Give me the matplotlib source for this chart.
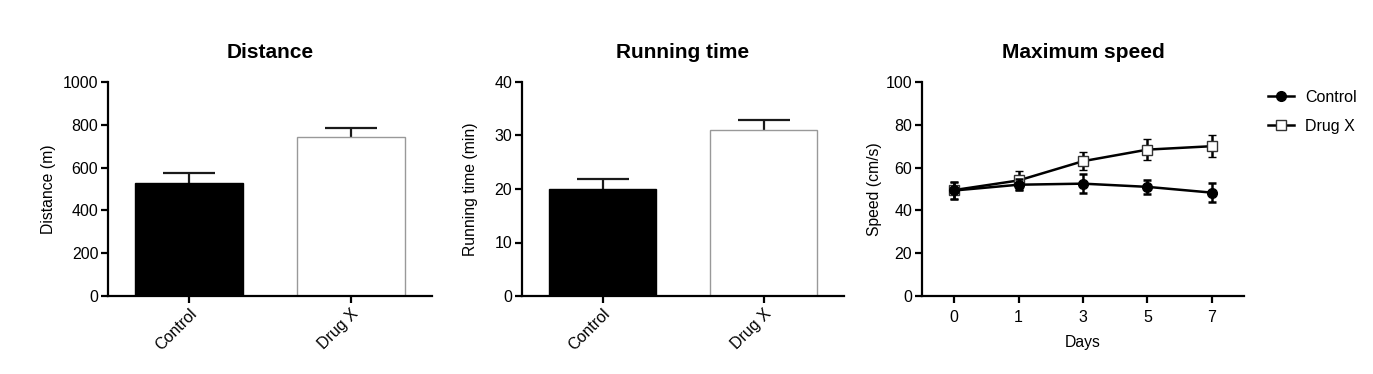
import matplotlib
matplotlib.use("Agg")
import matplotlib.pyplot as plt
from matplotlib.lines import Line2D
import numpy as np

plt.rcParams['font.family'] = ['Liberation Sans', 'DejaVu Sans']

groups = ["Control", "Drug X"]
distance_mean = [527, 741]
distance_err = [47, 43]
runtime_mean = [20.0, 31.0]
runtime_err = [1.9, 1.9]

days = ["0", "1", "3", "5", "7"]
speed_control = [49.3, 52.0, 52.5, 51.0, 48.3]
speed_control_err = [4.0, 2.6, 4.3, 3.3, 4.5]
speed_drug = [49.5, 54.0, 63.0, 68.4, 70.0]
speed_drug_err = [4.0, 4.5, 4.1, 4.8, 5.2]

fig = plt.figure(figsize=(13.73, 3.74), dpi=100)
W, H = 1373, 374
def axes_px(l, r, t, b):
    return fig.add_axes([l / W, (H - b) / H, (r - l) / W, (b - t) / H])

ax1 = axes_px(108, 432, 82, 296)
ax2 = axes_px(522, 844, 82, 296)
ax3 = axes_px(922, 1244, 82, 296)

TICK_FS = 11.5
LABEL_FS = 11.3
TITLE_FS = 15

def style(ax):
    for s in ['top', 'right']:
        ax.spines[s].set_visible(False)
    for s in ['left', 'bottom']:
        ax.spines[s].set_linewidth(1.6)
    ax.tick_params(axis='both', direction='out', length=5, width=1.6,
                   labelsize=TICK_FS, pad=2, colors='black')

def bar_panel(ax, means, errs, ymax, step, title, ylabel, ylab_x):
    x = np.arange(len(groups))
    ax.bar(x, means, width=0.67, color=['black', 'white'],
           edgecolor=['black', '#999999'], linewidth=1.0, zorder=2)
    _, caps, _ = ax.errorbar(x, means, yerr=[np.zeros(len(errs)), errs],
                             fmt='none', ecolor='#1a1a1a', elinewidth=1.6,
                             capsize=19, capthick=1.6, zorder=1)
    caps[0].set_visible(False)
    ax.set_xlim(-0.5, 1.5)
    ax.set_ylim(0, ymax)
    ax.set_yticks(np.arange(0, ymax + step / 2, step))
    ax.set_xticks(x)
    ax.set_xticklabels(groups, rotation=45, ha='right', rotation_mode='anchor')
    ax.set_title(title, fontsize=TITLE_FS, fontweight='bold', pad=17)
    ax.set_ylabel(ylabel, fontsize=LABEL_FS)
    ax.yaxis.set_label_coords(ylab_x, 0.5)
    style(ax)

bar_panel(ax1, distance_mean, distance_err, 1000, 200, "Distance",
          "Distance (m)", -0.160)
bar_panel(ax2, runtime_mean, runtime_err, 40, 10, "Running time",
          "Running time (min)", -0.137)

xd = np.arange(len(days))
ax3.errorbar(xd, speed_control, yerr=speed_control_err, color='black',
             marker='o', markersize=7, linewidth=1.8, elinewidth=1.8,
             capsize=3, capthick=1.8, zorder=3)
ax3.errorbar(xd, speed_drug, yerr=speed_drug_err, color='black',
             marker='s', markersize=7, markerfacecolor='white',
             markeredgecolor='#333333', markeredgewidth=1.0,
             linewidth=1.8, elinewidth=1.8, capsize=3, capthick=1.8,
             zorder=2)
ax3.set_xlim(-0.5, 4.5)
ax3.set_ylim(0, 100)
ax3.set_yticks(np.arange(0, 101, 20))
ax3.set_xticks(xd)
ax3.set_xticklabels(days)
ax3.set_xlabel("Days", fontsize=LABEL_FS, labelpad=7)
ax3.set_ylabel("Speed (cm/s)", fontsize=LABEL_FS)
ax3.yaxis.set_label_coords(-0.125, 0.5)
ax3.set_title("Maximum speed", fontsize=TITLE_FS, fontweight='bold', pad=17)
style(ax3)
ax3.tick_params(axis='x', pad=5)

handles = [
    Line2D([], [], color='black', marker='o', markersize=7, linewidth=1.8),
    Line2D([], [], color='black', marker='s', markersize=7, linewidth=1.8,
           markerfacecolor='white', markeredgecolor='#333333',
           markeredgewidth=1.0),
]
ax3.legend(handles, ["Control", "Drug X"], loc='upper left',
           bbox_to_anchor=(1.03, 1.03), frameon=False, fontsize=TICK_FS,
           handlelength=1.6, handletextpad=0.7, labelspacing=0.85)

fig.savefig("out.png", dpi=100)
